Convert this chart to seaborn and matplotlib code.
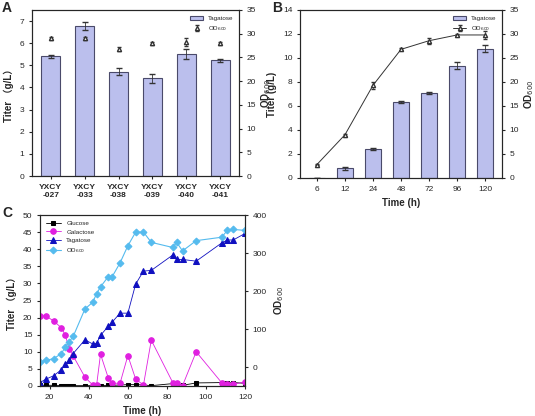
import matplotlib
matplotlib.use("Agg")
import matplotlib.pyplot as plt
import seaborn as sns
import numpy as np
import pandas as pd

sns.set_style("ticks")
plt.rcParams['font.family'] = ['Liberation Sans', 'Noto Sans CJK SC', 'DejaVu Sans']

# Panel A
strains = ["YXCY\n-027", "YXCY\n-033", "YXCY\n-038", "YXCY\n-039", "YXCY\n-040", "YXCY\n-041"]
a_titer = [5.4, 6.78, 4.72, 4.42, 5.52, 5.22]
a_err = [0.07, 0.17, 0.17, 0.2, 0.22, 0.08]
a_od = [29.0, 29.0, 26.8, 28.0, 28.2, 28.0]
a_od_err = [0.3, 0.3, 0.4, 0.3, 0.8, 0.3]

# Panel B
times_b = ["6", "12", "24", "48", "72", "96", "120"]
b_titer = [0.0, 0.8, 2.38, 6.33, 7.1, 9.35, 10.78]
b_err = [0.0, 0.1, 0.08, 0.06, 0.07, 0.28, 0.32]
b_od = [2.8, 9.0, 19.3, 26.8, 28.6, 29.8, 29.8]
b_od_err = [0.1, 0.2, 0.7, 0.2, 0.6, 0.2, 0.8]

# Panel C
t_c = [15, 18, 22, 26, 28, 30, 32, 38, 42, 44, 46, 50, 52, 56, 60, 64, 68, 72, 83, 85, 88, 95, 108, 111, 114, 120]
glucose = [0.2, 0.2, 0.2, 0.1, 0.1, 0.1, 0.1, 0.1, 0.1, 0.1, 0.1, 0.2, 0.2, 0.3, 0.4, 0.4, 0.3, 0.1, 0.7, 0.7, 0.2, 0.9, 1.0, 0.9, 1.0, 0.8]
galactose = [20.5, 20.5, 19.0, 17.0, 14.8, 10.8, 8.8, 2.6, 0.3, 0.3, 9.3, 2.3, 0.8, 0.8, 8.9, 2.0, 0.3, 13.4, 1.0, 0.8, 0.1, 10.0, 1.0, 0.5, 0.5, 1.2]
tagatose = [1.0, 2.0, 3.0, 4.8, 6.5, 7.5, 9.5, 13.5, 12.3, 12.5, 14.8, 17.5, 18.7, 21.3, 21.3, 29.8, 33.6, 33.8, 38.3, 37.0, 37.0, 36.5, 41.8, 42.7, 42.7, 44.6]
od_c = [13, 17.5, 22, 35.5, 53.5, 67, 80.5, 152.5, 170.5, 193, 211, 238, 238, 274, 319, 355, 355, 328, 314.5, 328, 305.5, 332.5, 341.5, 359.5, 362, 359.5]

barc = "#b3b8f5"
edge = "#4a4a6a"
W, H = 535, 416
fig = plt.figure(figsize=(5.35, 4.16), dpi=100)

def ax_at(x0, y0, x1, y1):
    return fig.add_axes([x0 / W, 1 - y1 / H, (x1 - x0) / W, (y1 - y0) / H])

fs = 6
# ---- A
axA = ax_at(32, 10, 239, 176)
dfA = pd.DataFrame({"s": strains, "v": a_titer})
sns.barplot(data=dfA, x="s", y="v", color=barc, edgecolor=edge, linewidth=0.8, width=0.55, ax=axA, label="Tagatose")
if axA.get_legend(): axA.get_legend().remove()
axA.errorbar(range(6), a_titer, yerr=a_err, fmt="none", ecolor="#333", elinewidth=0.6, capsize=2)
axA.set_ylim(0, 7.5); axA.set_yticks(range(8))
axA.set_xlabel(""); axA.set_ylabel("Titer （g/L）", fontsize=7, fontweight="bold")
axA2 = axA.twinx()
axA2.errorbar(range(6), a_od, yerr=a_od_err, fmt="^", mfc="white", mec="#333", ms=3, ecolor="#333", elinewidth=0.5, capsize=1.5, ls="none", label="OD$_{600}$")
axA2.set_ylim(0, 35); axA2.set_ylabel("OD$_{600}$", fontsize=7, fontweight="bold", labelpad=2)
h1, l1 = axA.get_legend_handles_labels(); h2, l2 = axA2.get_legend_handles_labels()
axA2.legend(h1 + h2, l1 + l2, fontsize=4.5, frameon=False, loc="upper right")
for a in (axA, axA2):
    a.tick_params(labelsize=fs, length=2)
for t in axA.get_xticklabels(): t.set_fontweight("bold")
fig.text(2 / W, 1 - 8 / H, "A", fontsize=10, fontweight="bold", va="center")

# ---- B
axB = ax_at(300, 10, 502, 178)
dfB = pd.DataFrame({"t": times_b, "v": b_titer})
sns.barplot(data=dfB, x="t", y="v", color=barc, edgecolor=edge, linewidth=0.8, width=0.55, ax=axB, label="Tagatose")
if axB.get_legend(): axB.get_legend().remove()
axB.errorbar(range(7), b_titer, yerr=b_err, fmt="none", ecolor="#333", elinewidth=0.6, capsize=2)
axB.set_ylim(0, 14); axB.set_yticks(range(0, 15, 2))
axB.set_xlabel("Time (h)", fontsize=7, fontweight="bold"); axB.set_ylabel("Titer (g/L)", fontsize=7, fontweight="bold")
axB2 = axB.twinx()
axB2.errorbar(range(7), b_od, yerr=b_od_err, fmt="-^", color="#333", mfc="white", ms=3, lw=0.7, elinewidth=0.5, capsize=1.5, label="OD$_{600}$")
axB2.set_ylim(0, 35); axB2.set_ylabel("OD$_{600}$", fontsize=7, fontweight="bold", labelpad=2)
h1, l1 = axB.get_legend_handles_labels(); h2, l2 = axB2.get_legend_handles_labels()
axB2.legend(h1 + h2, l1 + l2, fontsize=4.5, frameon=False, loc="upper right")
for a in (axB, axB2):
    a.tick_params(labelsize=fs, length=2)
fig.text(272 / W, 1 - 8 / H, "B", fontsize=10, fontweight="bold", va="center")

# ---- C
axC = ax_at(40, 215, 245, 386)
sns.lineplot(x=t_c, y=glucose, ax=axC, color="black", marker="s", ms=3, mec="black", lw=0.6, label="Glucose")
sns.lineplot(x=t_c, y=galactose, ax=axC, color="#e020e0", marker="o", ms=4, mec="#e020e0", lw=0.6, label="Galactose")
sns.lineplot(x=t_c, y=tagatose, ax=axC, color="#1010c0", marker="^", ms=4, mec="#1010c0", lw=0.6, label="Tagatose")
axC.set_xlim(15, 120); axC.set_ylim(0, 50); axC.set_yticks(range(0, 51, 5))
axC.set_xlabel("Time (h)", fontsize=7, fontweight="bold"); axC.set_ylabel("Titer （g/L）", fontsize=7, fontweight="bold")
axC2 = axC.twinx()
sns.lineplot(x=t_c, y=od_c, ax=axC2, color="#55bbee", marker="D", ms=3.5, mec="#55bbee", lw=0.8, label="OD$_{600}$")
axC2.set_ylim(-50, 400); axC2.set_yticks(range(0, 401, 100))
axC2.set_ylabel("OD$_{600}$", fontsize=7, fontweight="bold")
h1, l1 = axC.get_legend_handles_labels(); h2, l2 = axC2.get_legend_handles_labels()
axC.get_legend().remove(); axC2.get_legend().remove()
axC.legend(h1 + h2, l1 + l2, fontsize=4.5, frameon=False, loc="upper left", handlelength=2.5)
for a in (axC, axC2):
    a.tick_params(labelsize=fs, length=2)
fig.text(2 / W, 1 - 213 / H, "C", fontsize=10, fontweight="bold", va="center")

fig.savefig("out.png", dpi=100)
